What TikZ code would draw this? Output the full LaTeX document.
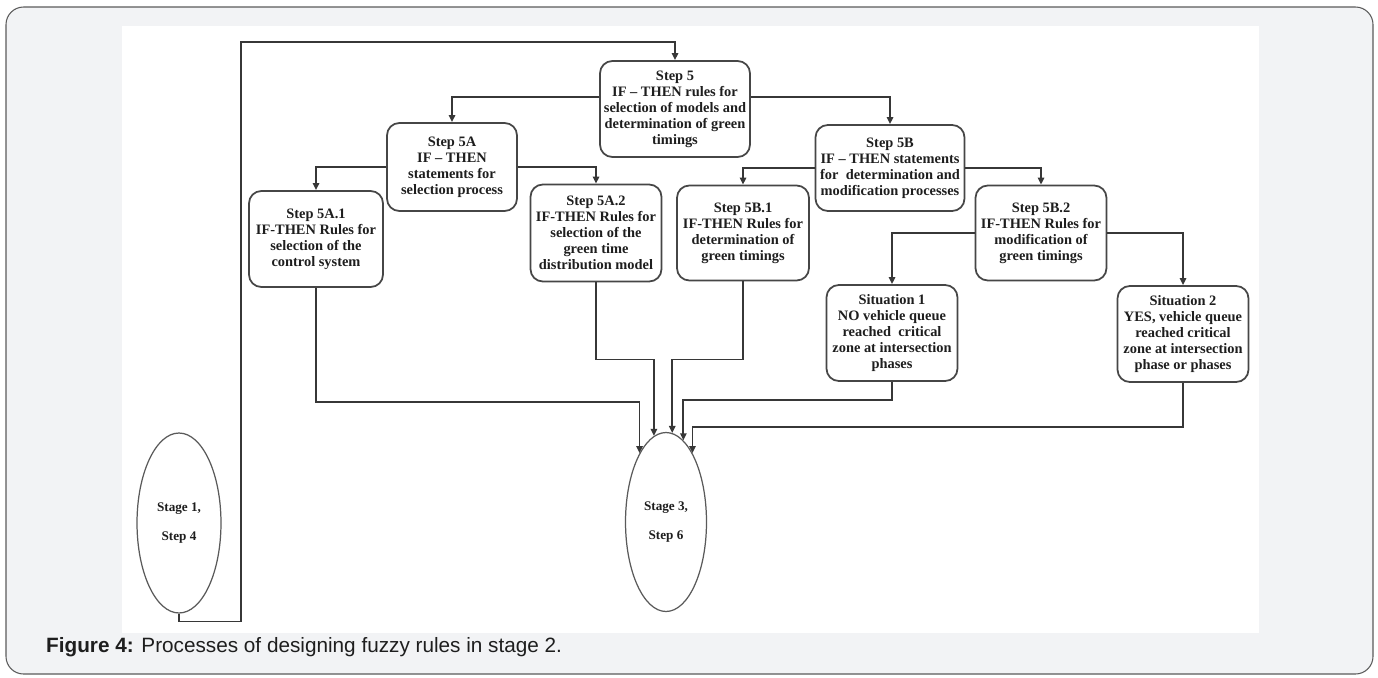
\documentclass[tikz,border=0pt]{standalone}
\usepackage{fontspec}
\setmainfont{Liberation Serif}
\newfontfamily\capfont{Liberation Sans}
\definecolor{PanelGray}{RGB}{242,243,245}
\definecolor{FrameGray}{RGB}{90,90,90}
\definecolor{BoxGray}{RGB}{70,70,70}
\definecolor{LineGray}{RGB}{55,55,55}
\definecolor{InkGray}{RGB}{30,30,30}
\usetikzlibrary{arrows.meta, shapes.geometric, positioning, calc}

\begin{document}
\begin{tikzpicture}[x=0.02cm, y=-0.02cm,
	stepbox/.style={draw=BoxGray, line width=1pt, rounded corners=7pt, fill=white,
		align=center, inner sep=0pt, text=InkGray,
		font=\fontsize{8.2}{9.1}\selectfont\bfseries},
	stageell/.style={ellipse, draw=FrameGray, line width=0.7pt, align=center,
		inner sep=0pt, minimum width=1.62cm, minimum height=3.58cm, text=InkGray,
		font=\fontsize{7.5}{9}\selectfont\bfseries},
	arr/.style={draw=LineGray, line width=1pt, -{Triangle[length=4pt,width=3.6pt]}}]
	\useasboundingbox (0,0) rectangle (1378,677);
	% marco de la figura
	\draw[draw=FrameGray, line width=0.6pt, fill=PanelGray, rounded corners=10pt]
		(6,7) rectangle (1373,674);
	\fill[white] (122,26) rectangle (1259,633);
	\node[anchor=base west, font=\capfont\fontsize{11.8}{13}\selectfont, text=InkGray]
		(caption) at (40,652) {\textbf{Figure 4:} Processes of designing fuzzy rules in stage 2.};
	% pasos
	\node[stepbox, minimum width=3cm, minimum height=1.92cm] (s5) at (675,109)
		{Step 5\\IF -- THEN rules for\\selection of models and\\determination of green\\timings};
	\node[stepbox, minimum width=2.6cm, minimum height=1.76cm] (s5a) at (452,167)
		{Step 5A\\IF -- THEN\\statements for\\selection process};
	\node[stepbox, minimum width=2.98cm, minimum height=1.72cm] (s5b) at (890,168)
		{Step 5B\\IF -- THEN statements\\for\ \ determination and\\modification processes};
	\node[stepbox, minimum width=2.68cm, minimum height=1.92cm] (s5a1) at (316,239)
		{Step 5A.1\\IF-THEN Rules for\\selection of the\\control system};
	\node[stepbox, minimum width=2.62cm, minimum height=1.94cm] (s5a2) at (596,233)
		{Step 5A.2\\IF-THEN Rules for\\selection of the\\green time\\distribution model};
	\node[stepbox, minimum width=2.64cm, minimum height=1.9cm] (s5b1) at (743,233)
		{Step 5B.1\\IF-THEN Rules for\\determination of\\green timings};
	\node[stepbox, minimum width=2.62cm, minimum height=1.9cm] (s5b2) at (1041,233)
		{Step 5B.2\\IF-THEN Rules for\\modification of\\green timings};
	\node[stepbox, minimum width=2.62cm, minimum height=1.92cm] (sit1) at (892,333)
		{Situation 1\\NO vehicle queue\\reached\ \ critical\\zone at intersection\\phases};
	\node[stepbox, minimum width=2.62cm, minimum height=1.92cm] (sit2) at (1183,334)
		{Situation 2\\YES, vehicle queue\\reached critical\\zone at intersection\\phase or phases};
	% etapas
	\node[stageell, minimum width=1.68cm, minimum height=3.6cm] (st1) at (179,523)
		{Stage 1,\\[8pt]Step 4};
	\node[stageell] (st3) at (666,522) {Stage 3,\\[8pt]Step 6};
	% conexiones
	\coordinate (loop) at (241,42);
	\draw[arr] (st1.south) -- ++(0,8) -| (loop) -| (s5.north);
	\draw[arr] ([yshift=7pt]s5.west) -| (s5a.north);
	\draw[arr] ([yshift=7pt]s5.east) -| (s5b.north);
	\draw[arr] (s5a.west) -| (s5a1.north);
	\draw[arr] (s5a.east) -| (s5a2.north);
	\draw[arr] (s5b.west) -| (s5b1.north);
	\draw[arr] (s5b.east) -| (s5b2.north);
	\draw[arr] (s5b2.west) -| (sit1.north);
	\draw[arr] (s5b2.east) -| (sit2.north);
	% hacia la etapa 3
	\draw[arr] (s5a1.south) -- ++(0,114) -| (st3.111);
	\draw[arr] (s5a2.south) -- ++(0,77) -| (st3.98);
	\draw[arr] (s5b1.south) -- ++(0,78) -| (st3.86);
	\draw[arr] (sit1.south) -- ++(0,18) -| (st3.78);
	\draw[arr] (sit2.south) -- ++(0,44) -| (st3.69);
\end{tikzpicture}
\end{document}
